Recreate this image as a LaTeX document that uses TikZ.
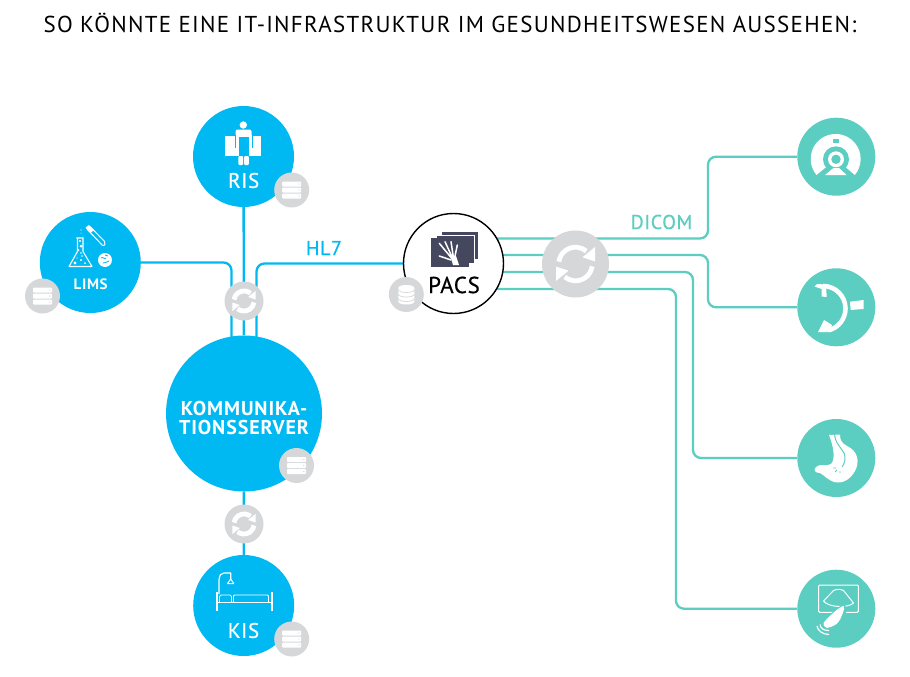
\documentclass[tikz,border=0pt]{standalone}
\usepackage{fontspec}
\setmainfont{PT Sans}
\newfontfamily\titlefont[LetterSpace=5.5]{PT Sans}
\newfontfamily\labelfont[LetterSpace=3,FakeBold=0.6]{PT Sans}
\newfontfamily\boldlabel[LetterSpace=4.5]{PT Sans Bold}
\usetikzlibrary{calc}
\definecolor{bluec}{HTML}{00B9F2}
\definecolor{tealc}{HTML}{5BCDC1}
\definecolor{grayc}{HTML}{D6D7D9}
\definecolor{darkc}{HTML}{45475F}
\pgfdeclarelayer{bg}
\pgfsetlayers{bg,main}
\tikzset{
  hub/.style={circle,fill=bluec,draw=none,inner sep=0pt,minimum size=101pt},
  bighub/.style={circle,fill=bluec,draw=none,inner sep=0pt,minimum size=156pt},
  modality/.style={circle,fill=tealc,draw=none,inner sep=0pt,minimum size=78pt},
  badge/.style={circle,fill=grayc,draw=none,inner sep=0pt,minimum size=35pt},
  syncsmall/.style={circle,fill=grayc,draw=none,inner sep=0pt,minimum size=39pt},
  syncbig/.style={circle,fill=grayc,draw=none,inner sep=0pt,minimum size=67pt},
  pacsnode/.style={circle,fill=white,draw=black,line width=1.4pt,inner sep=0pt,minimum size=100pt},
  blueline/.style={draw=bluec,line width=2.3pt,rounded corners=8pt},
  tealline/.style={draw=tealc,line width=2.3pt,rounded corners=8pt},
  whitelabel/.style={text=white,inner sep=0pt,font=\labelfont\fontsize{21}{24}\selectfont},
  pics/servericon/.style={code={
    \foreach \yy in {-8.5,-2.5,3.5}{
      \fill[white,rounded corners=0.8pt] (-9.5,\yy) rectangle (9.5,\yy+5);
      \fill[grayc] (7.3,\yy+2.5) circle (0.7);
    }
  }},
  pics/dbicon/.style={code={
    \fill[white] (-8,-6.5) -- (-8,7) .. controls (-8,11) and (8,11) .. (8,7) -- (8,-6.5) .. controls (8,-10.5) and (-8,-10.5) .. (-8,-6.5) -- cycle;
    \draw[grayc,line width=0.7pt] (-8,-5) .. controls (-8,-1) and (8,-1) .. (8,-5);
    \draw[grayc,line width=0.7pt] (-8,-0.5) .. controls (-8,3.5) and (8,3.5) .. (8,-0.5);
    \draw[grayc,line width=0.7pt] (-8,4) .. controls (-8,8) and (8,8) .. (8,4);
  }},
  pics/syncicon/.style={code={
    \draw[white,line width=4.8pt] (188:16.8) arc[start angle=188,end angle=310,radius=16.8];
    \fill[white] (19.5,-17) -- (19.5,-2.5) -- (7,-6.7) -- cycle;
    \draw[white,line width=4.8pt] (8:16.8) arc[start angle=8,end angle=130,radius=16.8];
    \fill[white] (-19.5,17) -- (-19.5,2.5) -- (-7,6.7) -- cycle;
  }}
}
\begin{document}
\begin{tikzpicture}[x=1pt,y=-1pt]
\useasboundingbox (0,0) rectangle (910,677);
\begin{pgfonlayer}{bg}
\fill[white] (0,0) rectangle (910,677);
\end{pgfonlayer}

% title
\node[inner sep=0pt,font=\titlefont\fontsize{23}{26}\selectfont] (title) at (450,23) {SO KÖNNTE EINE IT-INFRASTRUKTUR IM GESUNDHEITSWESEN AUSSEHEN:};

% main nodes
\node[hub] (ris) at (243.5,156.5) {};
\node[hub] (lims) at (90.3,262.5) {};
\node[bighub] (komm) at (244,413.5) {};
\node[hub] (kis) at (243.7,605.5) {};
\node[pacsnode] (pacs) at (453.5,263.5) {};

\node[syncsmall] (sync1) at (244,301) {};
\node[syncsmall] (sync2) at (244,524) {};
\node[syncbig] (sync3) at (575.5,264) {};

\node[modality] (m1) at (836.3,156.7) {};
\node[modality] (m2) at (836.3,307.3) {};
\node[modality] (m3) at (836.3,458) {};
\node[modality] (m4) at (836.3,608.7) {};

\node[badge] (risdb) at (291.7,190) {};
\node[badge] (limsdb) at (42.5,296) {};
\node[badge] (kommdb) at (296.5,465.5) {};
\node[badge] (kisdb) at (291.7,639) {};
\node[badge] (pacsdb) at (406.3,294.5) {};

\pic at (risdb) {servericon};
\pic at (limsdb) {servericon};
\pic at (kommdb) {servericon};
\pic at (kisdb) {servericon};
\pic at (pacsdb) {dbicon};

\pic[scale=0.6] at (sync1) {syncicon};
\pic[scale=0.6] at (sync2) {syncicon};
\pic at (sync3) {syncicon};

% connectors
\coordinate (k1) at (231.5,0);
\coordinate (k2) at (256.5,0);
\coordinate (t1) at (708,238.5);
\coordinate (t2) at (708,255);
\coordinate (t3) at (693,272);
\coordinate (t4) at (676,289);
\begin{pgfonlayer}{bg}
\draw[blueline] (ris) -- (komm);
\draw[blueline] (komm) -- (kis);
\draw[blueline] (lims) -- (lims -| k1) -- (k1 |- komm);
\draw[blueline] (pacs) -- (pacs -| k2) -- (k2 |- komm);
\draw[tealline] (pacs |- t1) -- (t1) -- (t1 |- m1) -- (m1);
\draw[tealline] (pacs |- t2) -- (t2) -- (t2 |- m2) -- (m2);
\draw[tealline] (pacs |- t3) -- (t3) -- (t3 |- m3) -- (m3);
\draw[tealline] (pacs |- t4) -- (t4) -- (t4 |- m4) -- (m4);
\end{pgfonlayer}

% labels
\node[whitelabel] (rislab) at (243.7,180.5) {RIS};
\node[whitelabel] (kislab) at (243.5,630.5) {KIS};
\node[whitelabel,font=\boldlabel\fontsize{15}{17}\selectfont] (limslab) at (90.7,284) {LIMS};
\node[whitelabel,align=center,font=\boldlabel\fontsize{20}{19}\selectfont] (kommlab) at (244,417.5) {KOMMUNIKA-\\TIONSSERVER};
\node[inner sep=0pt,text=black,font=\labelfont\fontsize{23}{25}\selectfont] (pacslab) at (454,285) {PACS};
\node[inner sep=0pt,text=bluec,font=\labelfont\fontsize{20}{22}\selectfont] (hl7) at (324,248) {HL7};
\node[inner sep=0pt,text=tealc,font=\labelfont\fontsize{20}{22}\selectfont] (dicom) at (661.5,222) {DICOM};

% RIS icon: person on table
\fill[white] (225,136) rectangle (261,156);
\fill[white,rounded corners=2pt] (235.5,129.5) rectangle (251.5,140);
\fill[white] (243.3,125) circle (3.7);
\fill[bluec] (238.5,137) rectangle (249,157);
\draw[bluec,line width=0.9pt] (235,135) -- (235,148);
\draw[bluec,line width=0.9pt] (252,135) -- (252,148);
\fill[white] (236,135) rectangle (238,149);
\fill[white] (249.5,135) rectangle (251.5,149);
\fill[white,rounded corners=1pt] (238.3,156) rectangle (243.2,165);
\fill[white,rounded corners=1pt] (244,156) rectangle (248.9,165);

% LIMS icon
\draw[white,line width=1.1pt,line join=round] (76.3,238) -- (83.7,238) (77.5,238) -- (77.5,251.5) -- (69,266.5) -- (92,266.5) -- (83,251.5) -- (83,238);
\foreach \p/\r in {{80,241}/1.2,{81,246}/1.5,{78.5,250}/1,{81,253}/0.9,{82,256}/0.8,{75,263}/1.7,{81,260}/1.2,{85,263}/1,{77,258}/0.7,{81,230}/0.6,{81,233}/0.5}{\fill[white] (\p) circle (\r);}
\draw[white,line width=1pt,rounded corners=2pt,line join=round] (86,228) -- (89,225.5) -- (106,243) -- (103.5,246.5) -- cycle;
\fill[white] (85.5,227.5) -- (89,225) -- (94,230) -- (90.5,233) -- cycle;
\fill[white] (105,260) circle (7);
\draw[bluec,line width=0.8pt] (101,258) .. controls (103,256) and (104,260) .. (106,258) (103,263) .. controls (105,261) and (107,264) .. (109,261) (105,255) -- (108,256);

% KIS icon: bed
\draw[white,line width=1.2pt,line join=round] (219,594) -- (219,580) .. controls (219.5,575) and (221,573) .. (224,573) -- (230.7,573) -- (230.7,579);
\draw[white,line width=1pt,line join=round] (230.7,579) -- (227.5,583.5) -- (233.8,583.5) -- cycle;
\fill[white] (215.6,591.5) rectangle (217.8,611);
\fill[white] (270.5,591.5) rectangle (272.7,611);
\fill[white] (216,601.6) rectangle (272,603.2);
\draw[white,line width=0.9pt,rounded corners=1.5pt] (219.5,602) -- (219.5,595) -- (231.5,595) -- (231.5,602);
\draw[white,line width=0.9pt,rounded corners=1pt] (233.5,602) -- (233.5,595) -- (268.5,595) -- (268.5,602);

% PACS icon: x-ray films
\fill[darkc] (441,231) rectangle (478,259.5);
\draw[white,line width=0.6pt] (441,231) rectangle (478,259.5);
\fill[darkc] (436,235) rectangle (474,263);
\draw[white,line width=0.6pt] (436,235) rectangle (474,263);
\fill[darkc] (431,238.3) rectangle (469.3,266.7);
\draw[white,line width=1.5pt,line cap=round] (451.7,258.3) -- (439.3,243.3) (452.5,258) -- (445,241.7) (453.5,258) -- (451,241.7) (454.5,258.5) -- (457.3,245) (451,260) -- (439.3,256);
\fill[white] (450,255) -- (456,256) -- (459,265) -- (453,265) -- cycle;

% MRI icon
\fill[white] (836,159) -- (816.5,175) arc[start angle=140,end angle=400,radius=25] -- cycle;
\fill[tealc] (836,159.3) circle (13);
\fill[white] (836,159.3) circle (8);
\fill[tealc] (836,159.3) circle (4.7);
\fill[tealc,rounded corners=0.6pt] (833,139) rectangle (839,143);
\fill[white] (833.5,168) -- (839,168) -- (846.7,175) -- (825,175) -- cycle;

% C-arm icon
\draw[white,line width=4.6pt] (823,286) arc[start angle=-90,end angle=75,radius=22.5];
\fill[white] (814.5,286.5) -- (817,284) -- (826,284.5) -- (826.7,297) -- (821.7,296.5) -- (821.7,289) -- cycle;
\fill[white] (818,332) -- (824,320) -- (832,325) -- (830,332) -- cycle;
\fill[white] (850,301.7) -- (863.5,300) -- (863.5,309) -- (850.7,310) -- cycle;

% stomach icon
\fill[white] (829,435) -- (840,434.5) .. controls (840,441) and (842,443) .. (847,446) .. controls (858,451) and (860,462) .. (855,471) .. controls (850,480) and (842,484) .. (834,482) .. controls (828,480) and (825,476) .. (820,473) .. controls (815,473) and (813,470) .. (816,467) .. controls (820,463) and (826,467) .. (831,464) .. controls (836,459) and (833,445) .. (829,435) -- cycle;
\draw[tealc,line width=1pt] (834.5,433) .. controls (835,444) and (841,447) .. (844,453) .. controls (846,458) and (845,463) .. (842,467);
\draw[tealc,line width=0.8pt] (833,468) -- (836,468) (837,470) -- (835,472) (840,471) -- (840,473);

% ultrasound icon
\draw[white,line width=1pt,rounded corners=1pt] (818.7,585) rectangle (858.3,612.3);
\draw[white,line width=1pt,line join=round] (823.5,601) -- (833.5,590.5) .. controls (837,589) and (840,589) .. (843.5,590.5) -- (853.5,603) .. controls (849,608) and (829,608) .. (823.5,601) -- cycle;
\fill[tealc] (844,603) -- (820,622) -- (828,632) -- (840,626) -- (847,610) -- cycle;
\fill[white] (843,606) .. controls (845,605) and (844,611) .. (842,615) .. controls (840,621) and (837,624) .. (835,625) .. controls (832,626) and (830,628) .. (827,628) .. controls (824,627) and (823,625) .. (823.5,623) .. controls (825,620) and (828,618) .. (831,615) .. controls (835,611) and (839,608) .. (843,606) -- cycle;
\draw[white,line width=1.2pt] (820,624.5) .. controls (820.5,628) and (823,630.5) .. (829,630.5);
\draw[white,line width=1.2pt] (817,626) .. controls (817.5,630) and (822,634.5) .. (829,634.5);
\end{tikzpicture}
\end{document}
